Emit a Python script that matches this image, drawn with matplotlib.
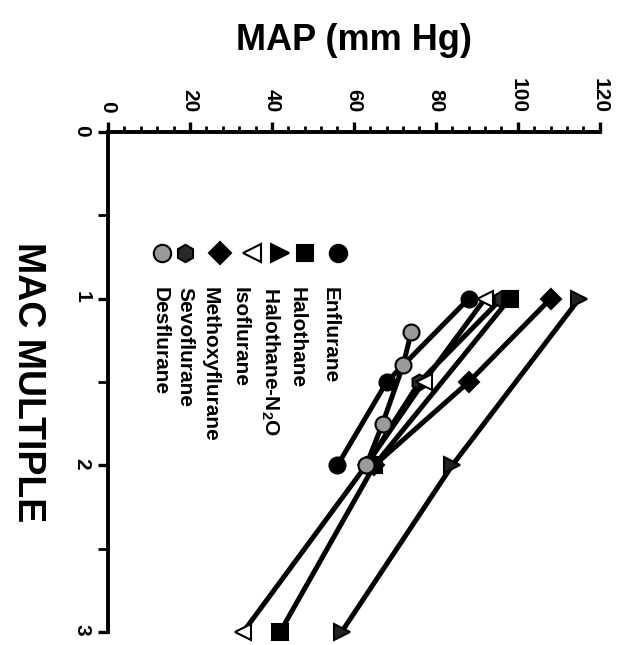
import matplotlib
matplotlib.use('Agg')
import matplotlib.pyplot as plt
from matplotlib.ticker import MultipleLocator

plt.rcParams['font.family'] = ['Liberation Sans', 'DejaVu Sans']
plt.rcParams['font.weight'] = 'bold'
plt.rcParams['mathtext.fontset'] = 'custom'
plt.rcParams['mathtext.bf'] = 'Liberation Sans:bold'
plt.rcParams['mathtext.rm'] = 'Liberation Sans:bold'

# Data: MAC multiple vs MAP (mm Hg)
enf_mac = [1, 1.5, 2]
enf_map = [88, 68, 56]

hal_mac = [1, 2, 3]
hal_map = [98, 65, 42]

haln2o_mac = [1, 2, 3]
haln2o_map = [115, 84, 57]

iso_mac = [1, 1.5, 2, 3]
iso_map = [92, 77, 63, 33]

meth_mac = [1, 1.5, 2]
meth_map = [108, 88, 65]

sevo_mac = [1, 1.5, 2]
sevo_map = [96, 76, 63]

des_mac = [1.2, 1.4, 1.75, 2]
des_map = [74, 72, 67, 63]

names = ['Enflurane', 'Halothane', r'Halothane-N$_\mathbf{2}$O', 'Isoflurane',
         'Methoxyflurane', 'Sevoflurane', 'Desflurane']

# styles: marker, facecolor
styles = [('o', 'black'), ('s', 'black'), ('>', '#222222'), ('<', 'white'),
          ('D', 'black'), ('h', '#2a2a2a'), ('o', '#9a9a9a')]
sizes = [11.5, 11, 11.5, 11.5, 10, 11.5, 11.5]
zorders = [6, 5, 4, 7, 5, 3, 8]

series = [(enf_mac, enf_map), (hal_mac, hal_map), (haln2o_mac, haln2o_map),
          (iso_mac, iso_map), (meth_mac, meth_map), (sevo_mac, sevo_map),
          (des_mac, des_map)]

fig = plt.figure(figsize=(6.28, 6.45), dpi=100)
ax = fig.add_axes([0.172, 0.0202, 0.783, 0.775])

for i, (mac, mp) in enumerate(series):
    m, fc = styles[i]
    ax.plot(mp, mac, color='black', lw=3.6, marker=m, markersize=sizes[i],
            markerfacecolor=fc, markeredgecolor='black', markeredgewidth=1.5,
            zorder=zorders[i], clip_on=False)

# legend drawn by hand (rotated text)
leg_marker_x = [56.1, 48.0, 42.0, 35.1, 27.3, 18.8, 13.2]
leg_text_x = [54.1, 46.1, 39.5, 32.2, 24.9, 18.8, 12.7]
for i in range(len(names)):
    m, fc = styles[i]
    if i == 2:
        fc = 'black'
    ax.plot([leg_marker_x[i]], [0.726], marker=m, markersize=sizes[i] + 1,
            markerfacecolor=fc, markeredgecolor='black', markeredgewidth=1.5,
            linestyle='none')
    ax.text(leg_text_x[i], 0.93, names[i], rotation=-90, ha='center', va='top',
            fontsize=15, fontweight='bold')

ax.set_xlim(0, 120)
ax.set_ylim(3, 0)

ax.xaxis.tick_top()
ax.xaxis.set_label_position('top')
ax.xaxis.set_major_locator(MultipleLocator(20))
ax.xaxis.set_minor_locator(MultipleLocator(4))
ax.yaxis.set_major_locator(MultipleLocator(1))
ax.yaxis.set_minor_locator(MultipleLocator(0.5))

for s in ['right', 'bottom']:
    ax.spines[s].set_visible(False)
for s in ['top', 'left']:
    ax.spines[s].set_linewidth(2.8)

ax.tick_params(axis='x', which='major', direction='out', length=7, width=2.4,
               labelsize=15, pad=7, labelrotation=-90)
ax.tick_params(axis='x', which='minor', direction='out', length=4, width=2)
ax.tick_params(axis='y', which='major', direction='out', length=7, width=2.4,
               labelsize=15, pad=5, labelrotation=-90)
ax.tick_params(axis='y', which='minor', direction='out', length=7, width=2)
for lb in ax.get_xticklabels() + ax.get_yticklabels():
    lb.set_fontweight('bold')

ax.set_xlabel('MAP (mm Hg)', fontsize=26, fontweight='bold', labelpad=20)
ax.set_ylabel('MAC MULTIPLE', fontsize=27, fontweight='bold', rotation=-90,
              labelpad=32, va='center')

fig.savefig('out.png', dpi=100)
